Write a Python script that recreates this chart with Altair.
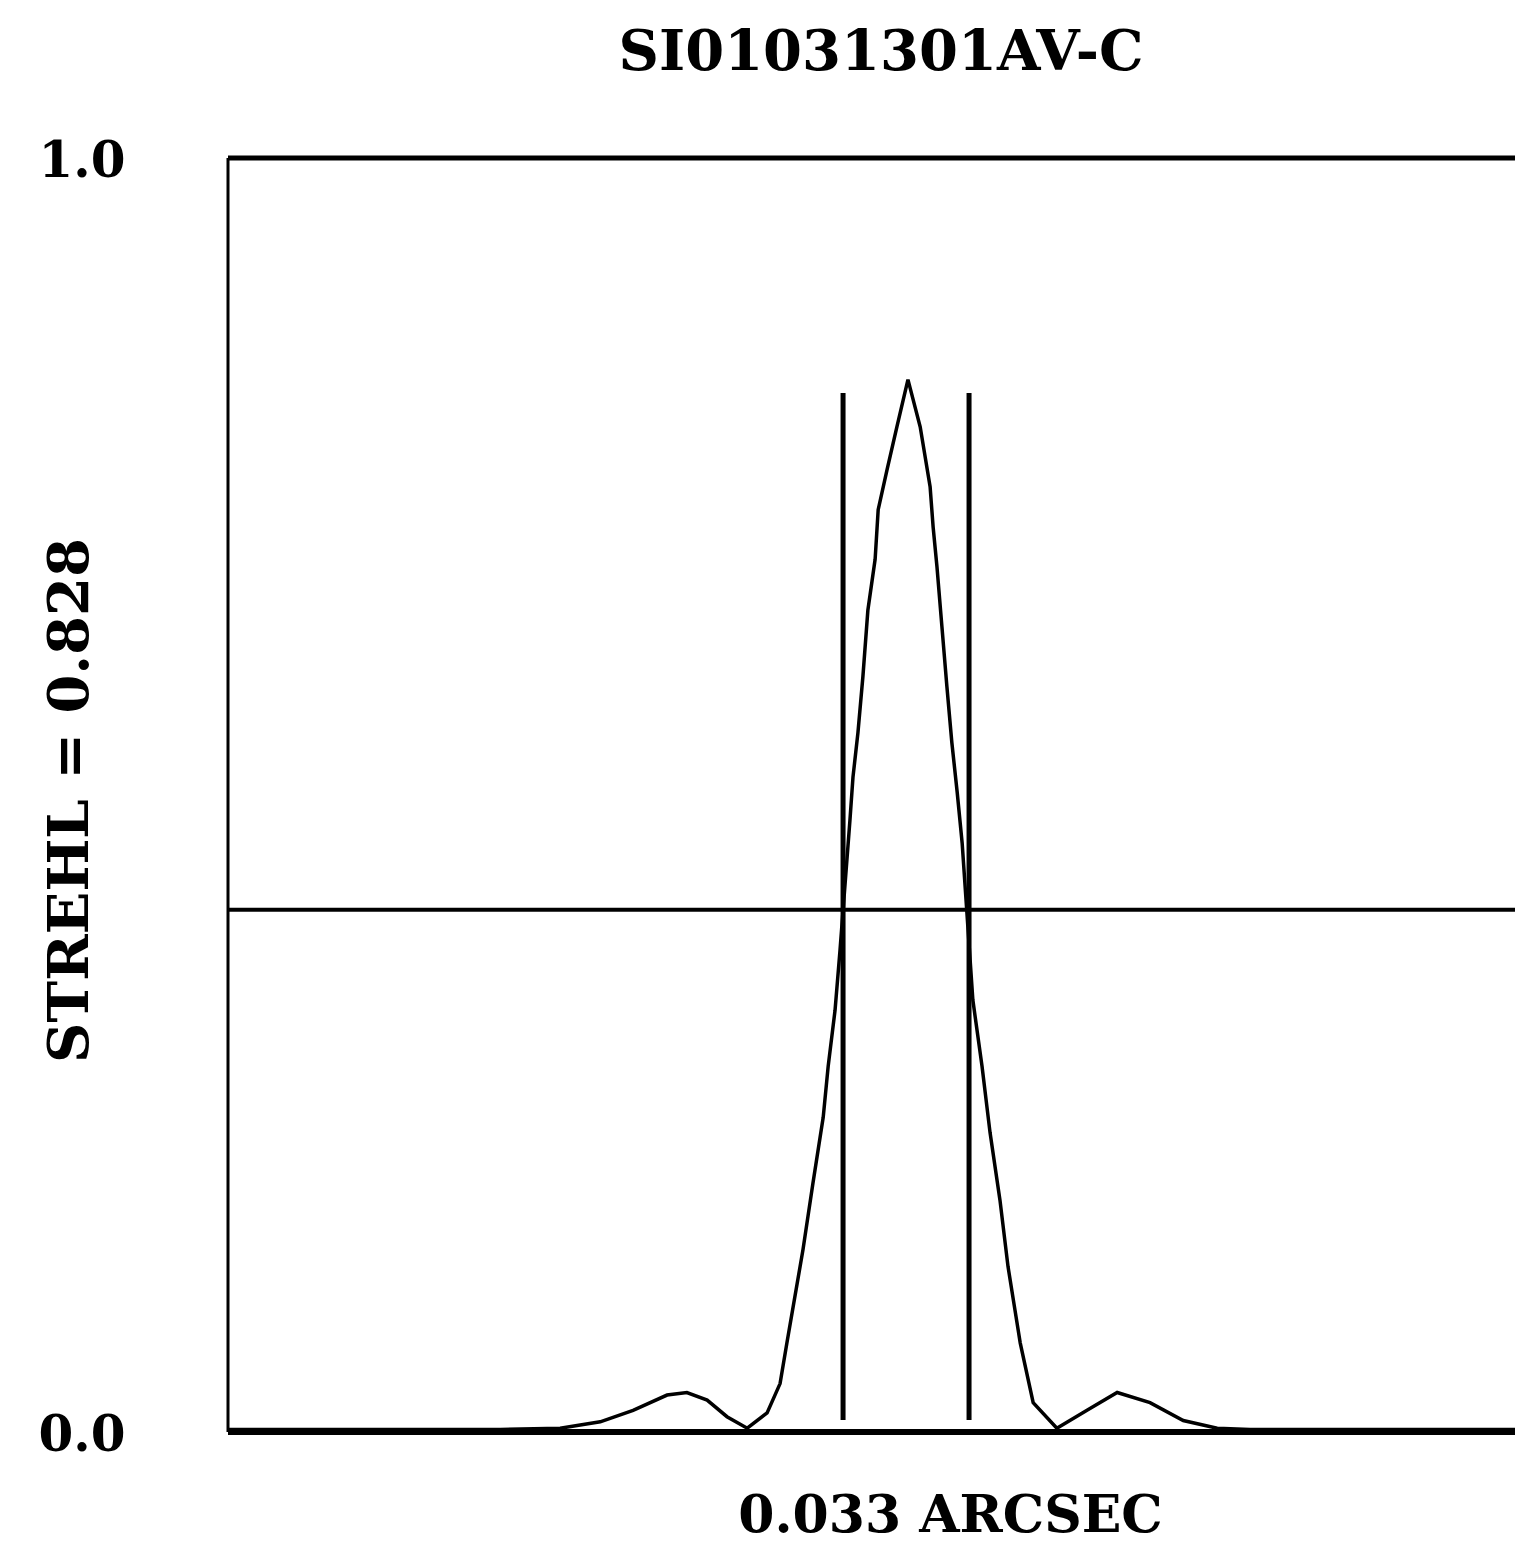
import altair as alt
import pandas as pd

# Radial profile: offset from peak (arcsec) and normalised intensity
x_arcsec = [-0.1776, -0.1325, -0.1063, -0.0906, -0.0801, -0.0715, -0.0626, -0.0574,
            -0.0521, -0.0469, -0.0416, -0.0364, -0.0330, -0.0312, -0.0270, -0.0244,
            -0.0217, -0.0204, -0.0186, -0.0173, -0.0147, -0.0139, -0.0126, -0.0113,
            -0.0100, -0.0081, -0.0073, -0.0050, -0.0024, 0.0005, 0.0037, 0.0063,
            0.0071, 0.0081, 0.0094, 0.0107, 0.0120, 0.0134, 0.0147, 0.0175,
            0.0199, 0.0220, 0.0246, 0.0267, 0.0299, 0.0333, 0.0395, 0.0474,
            0.0553, 0.0639, 0.0726, 0.0815, 0.0901, 0.1163, 0.1425, 0.1595]
strehl = [0.002, 0.002, 0.002, 0.003, 0.008, 0.017, 0.029, 0.031,
          0.025, 0.012, 0.003, 0.015, 0.038, 0.070, 0.143, 0.195,
          0.247, 0.287, 0.331, 0.378, 0.480, 0.514, 0.549, 0.593,
          0.645, 0.685, 0.724, 0.755, 0.789, 0.826, 0.789, 0.742,
          0.710, 0.679, 0.632, 0.585, 0.541, 0.502, 0.462, 0.339,
          0.287, 0.235, 0.182, 0.130, 0.070, 0.023, 0.003, 0.017,
          0.031, 0.023, 0.009, 0.003, 0.002, 0.002, 0.002, 0.002]

half_max = [0.41]
fwhm_edges = [-0.0165, 0.0165]
fwhm_low = [0.0094, 0.0094]
fwhm_high = [0.8155, 0.8155]
frame_top = [1.0]
frame_bottom = [0.0]
frame_left = [-0.1776]
y_ticks = [0.0, 1.0]

title_text = ["SI01031301AV-C"]
y_title = "STREHL = 0.828"
x_title = "0.033 ARCSEC"

FONT = "DejaVu Serif"
X_DOMAIN = [-0.1776, 0.1595]

xaxis = alt.Axis(labels=False, ticks=False, domain=False, grid=False,
                 title=x_title, titleFont=FONT, titleFontSize=52, titleFontWeight="bold",
                 titleColor="black", titleX=722, titleY=99, titleAlign="center",
                 titleBaseline="alphabetic")
yaxis = alt.Axis(values=y_ticks, format=".1f", ticks=False, domain=False, grid=False,
                 labelFont=FONT, labelFontSize=50, labelFontWeight="bold", labelColor="black",
                 labelPadding=103, labelOffset=3, title=y_title, titleFont=FONT, titleFontSize=56,
                 titleFontWeight="bold", titleColor="black", titleX=-158, titleY=642,
                 titleAngle=270, titleAlign="center", titleBaseline="middle")

def X(field="x"):
    return alt.X(f"{field}:Q", scale=alt.Scale(domain=X_DOMAIN, nice=False, zero=False), axis=xaxis)

def Y(field="y"):
    return alt.Y(f"{field}:Q", scale=alt.Scale(domain=[0, 1], nice=False, zero=False), axis=yaxis)

curve_df = pd.DataFrame({"x": x_arcsec, "y": strehl})
curve = alt.Chart(curve_df).mark_line(color="black", strokeWidth=3.5).encode(x=X(), y=Y())

top = alt.Chart(pd.DataFrame({"y": frame_top})).mark_rule(color="black", strokeWidth=5).encode(y=Y())
bottom = alt.Chart(pd.DataFrame({"y": frame_bottom})).mark_rule(color="black", strokeWidth=6).encode(y=Y())
left = alt.Chart(pd.DataFrame({"x": frame_left})).mark_rule(color="black", strokeWidth=3).encode(x=X())
hline = alt.Chart(pd.DataFrame({"y": half_max})).mark_rule(color="black", strokeWidth=4).encode(y=Y())
vlines = alt.Chart(pd.DataFrame({"x": fwhm_edges, "y": fwhm_low, "y2": fwhm_high})).mark_rule(
    color="black", strokeWidth=5).encode(x=X(), y=Y(), y2="y2:Q")

title_mark = alt.Chart(pd.DataFrame({"t": title_text})).mark_text(
    font=FONT, fontSize=56, fontWeight="bold", color="black", align="center",
    baseline="alphabetic").encode(x=alt.value(653), y=alt.value(-88), text="t:N")

chart = alt.layer(left, top, bottom, hline, vlines, curve, title_mark).properties(
    width=1287, height=1274,
    autosize=alt.AutoSizeParams(type="none"),
    padding={"left": 220, "top": 150, "right": 0, "bottom": 111},
    background="white",
).configure_view(stroke=None)

chart.save("out.html", embed_options={"renderer": "svg", "actions": False})
